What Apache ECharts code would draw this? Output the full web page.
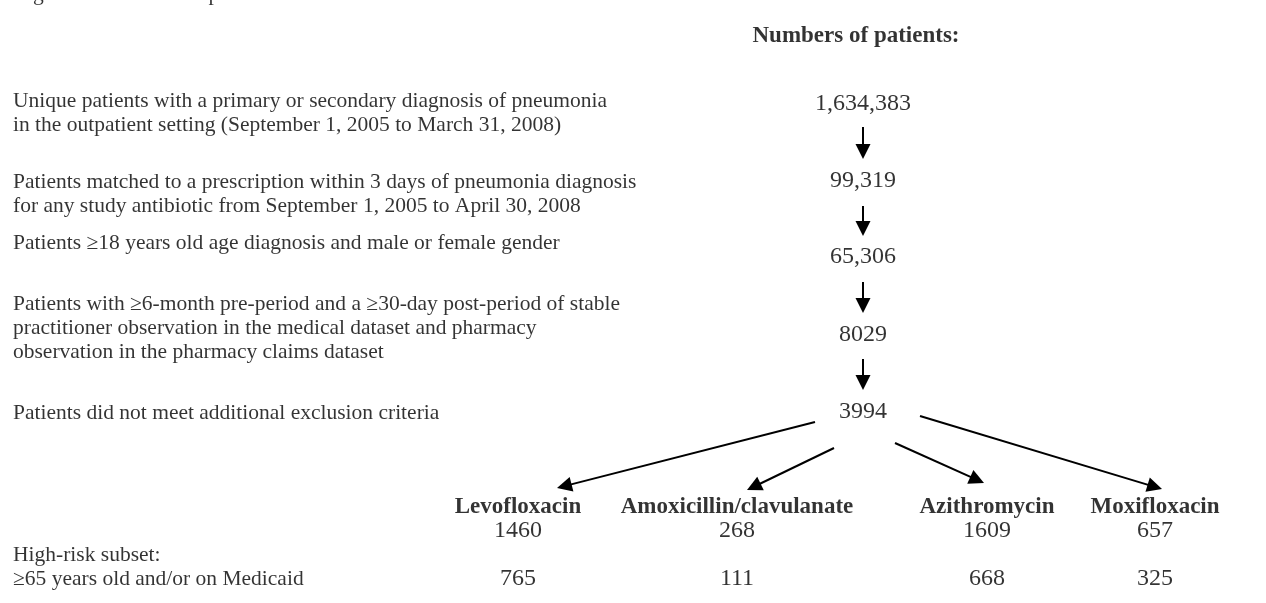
<!DOCTYPE html>
<html>
<head>
<meta charset="utf-8">
<script src="https://cdn.jsdelivr.net/npm/echarts@6/dist/echarts.min.js"></script>
<style>
  html, body { margin: 0; padding: 0; background: #fff; }
  #chart { width: 1266px; height: 603px; }
</style>
</head>
<body>
<div id="chart"></div>
<script>
// --- data ---
const figureTitle = 'Figure 1 Flowchart of patient selection';
const countHeader = 'Numbers of patients:';
const stepLabels = [
  ['Unique patients with a primary or secondary diagnosis of pneumonia',
   'in the outpatient setting (September 1, 2005 to March 31, 2008)'],
  ['Patients matched to a prescription within 3 days of pneumonia diagnosis',
   'for any study antibiotic from September 1, 2005 to April 30, 2008'],
  ['Patients \u226518 years old age diagnosis and male or female gender'],
  ['Patients with \u22656-month pre-period and a \u226530-day post-period of stable',
   'practitioner observation in the medical dataset and pharmacy',
   'observation in the pharmacy claims dataset'],
  ['Patients did not meet additional exclusion criteria']
];
const stepCounts = ['1,634,383', '99,319', '65,306', '8029', '3994'];
const drugs = ['Levofloxacin', 'Amoxicillin/clavulanate', 'Azithromycin', 'Moxifloxacin'];
const drugCounts = [1460, 268, 1609, 657];
const highRiskLabels = ['High-risk subset:', '\u226565 years old and/or on Medicaid'];
const highRiskCounts = [765, 111, 668, 325];

// --- layout (pixel units on hidden axes) ---
const W = 1266, H = 603;
const textX = 13;
const countX = 863;
const stepTextY = [[101, 125], [182, 206], [243], [304, 328, 352], [413]];
const stepCountY = [104, 181, 257, 335, 412];
const downArrows = [[127, 159], [206, 236], [282, 313], [359, 390]];
const drugX = [518, 737, 987, 1155];
const drugNameY = 507, drugCountY = 531;
const highRiskY = [555, 579];
const splitFrom = [[815, 422], [834, 448], [895, 443], [920, 416]];
const splitTo = [[557, 488], [747, 490], [984, 483], [1162, 489]];

const FONT = '"Liberation Serif", "DejaVu Serif", serif';
const FS = 21.5, FS_NUM = 24, FS_BOLD = 23;
const HEAD = [14, 15];

function arrowLine(from, tip) {
  const dx = tip[0] - from[0], dy = tip[1] - from[1];
  const len = Math.sqrt(dx * dx + dy * dy);
  const k = HEAD[1] / 2 / len;
  return { coords: [from, [tip[0] - dx * k, tip[1] - dy * k]] };
}

const texts = [];
function addText(x, y, str, align, kind, offsetY) {
  texts.push({
    value: [x, y],
    label: {
      formatter: String(str),
      align: align,
      offset: [0, offsetY || 0],
      fontWeight: kind === 'bold' ? 'bold' : 'normal',
      fontSize: kind === 'bold' ? FS_BOLD : kind === 'num' ? FS_NUM : FS
    }
  });
}

// caption line cut off at the top edge: only descenders show
addText(textX + 2, 0, figureTitle, 'left', null, -6);
addText(856, 36, countHeader, 'center', 'bold');
stepLabels.forEach((lines, i) => {
  lines.forEach((line, j) => addText(textX, stepTextY[i][j], line, 'left'));
  addText(countX, stepCountY[i], stepCounts[i], 'center', 'num');
});
drugs.forEach((d, i) => {
  addText(drugX[i], drugNameY, d, 'center', 'bold');
  addText(drugX[i], drugCountY, drugCounts[i], 'center', 'num');
  addText(drugX[i], highRiskY[1], highRiskCounts[i], 'center', 'num');
});
highRiskLabels.forEach((l, i) => addText(textX, highRiskY[i], l, 'left'));

const arrows = downArrows.map(a => arrowLine([countX, a[0]], [countX, a[1]]))
  .concat(splitFrom.map((f, i) => arrowLine(f, splitTo[i])));

const chart = echarts.init(document.getElementById('chart'));
chart.setOption({
  animation: false,
  grid: { left: 0, right: 0, top: 0, bottom: 0 },
  xAxis: { type: 'value', min: 0, max: W, show: false },
  yAxis: { type: 'value', min: 0, max: H, inverse: true, show: false },
  series: [
    {
      type: 'scatter',
      symbolSize: 0,
      clip: false,
      data: texts,
      label: {
        show: true,
        position: 'inside',
        verticalAlign: 'middle',
        color: '#000',
        fontFamily: FONT,
        fontSize: FS
      },
      silent: true
    },
    {
      type: 'lines',
      coordinateSystem: 'cartesian2d',
      symbol: ['none', 'triangle'],
      symbolSize: HEAD,
      lineStyle: { color: '#000', width: 2, opacity: 1 },
      itemStyle: { color: '#000' },
      data: arrows,
      silent: true
    }
  ]
});
</script>
</body>
</html>
